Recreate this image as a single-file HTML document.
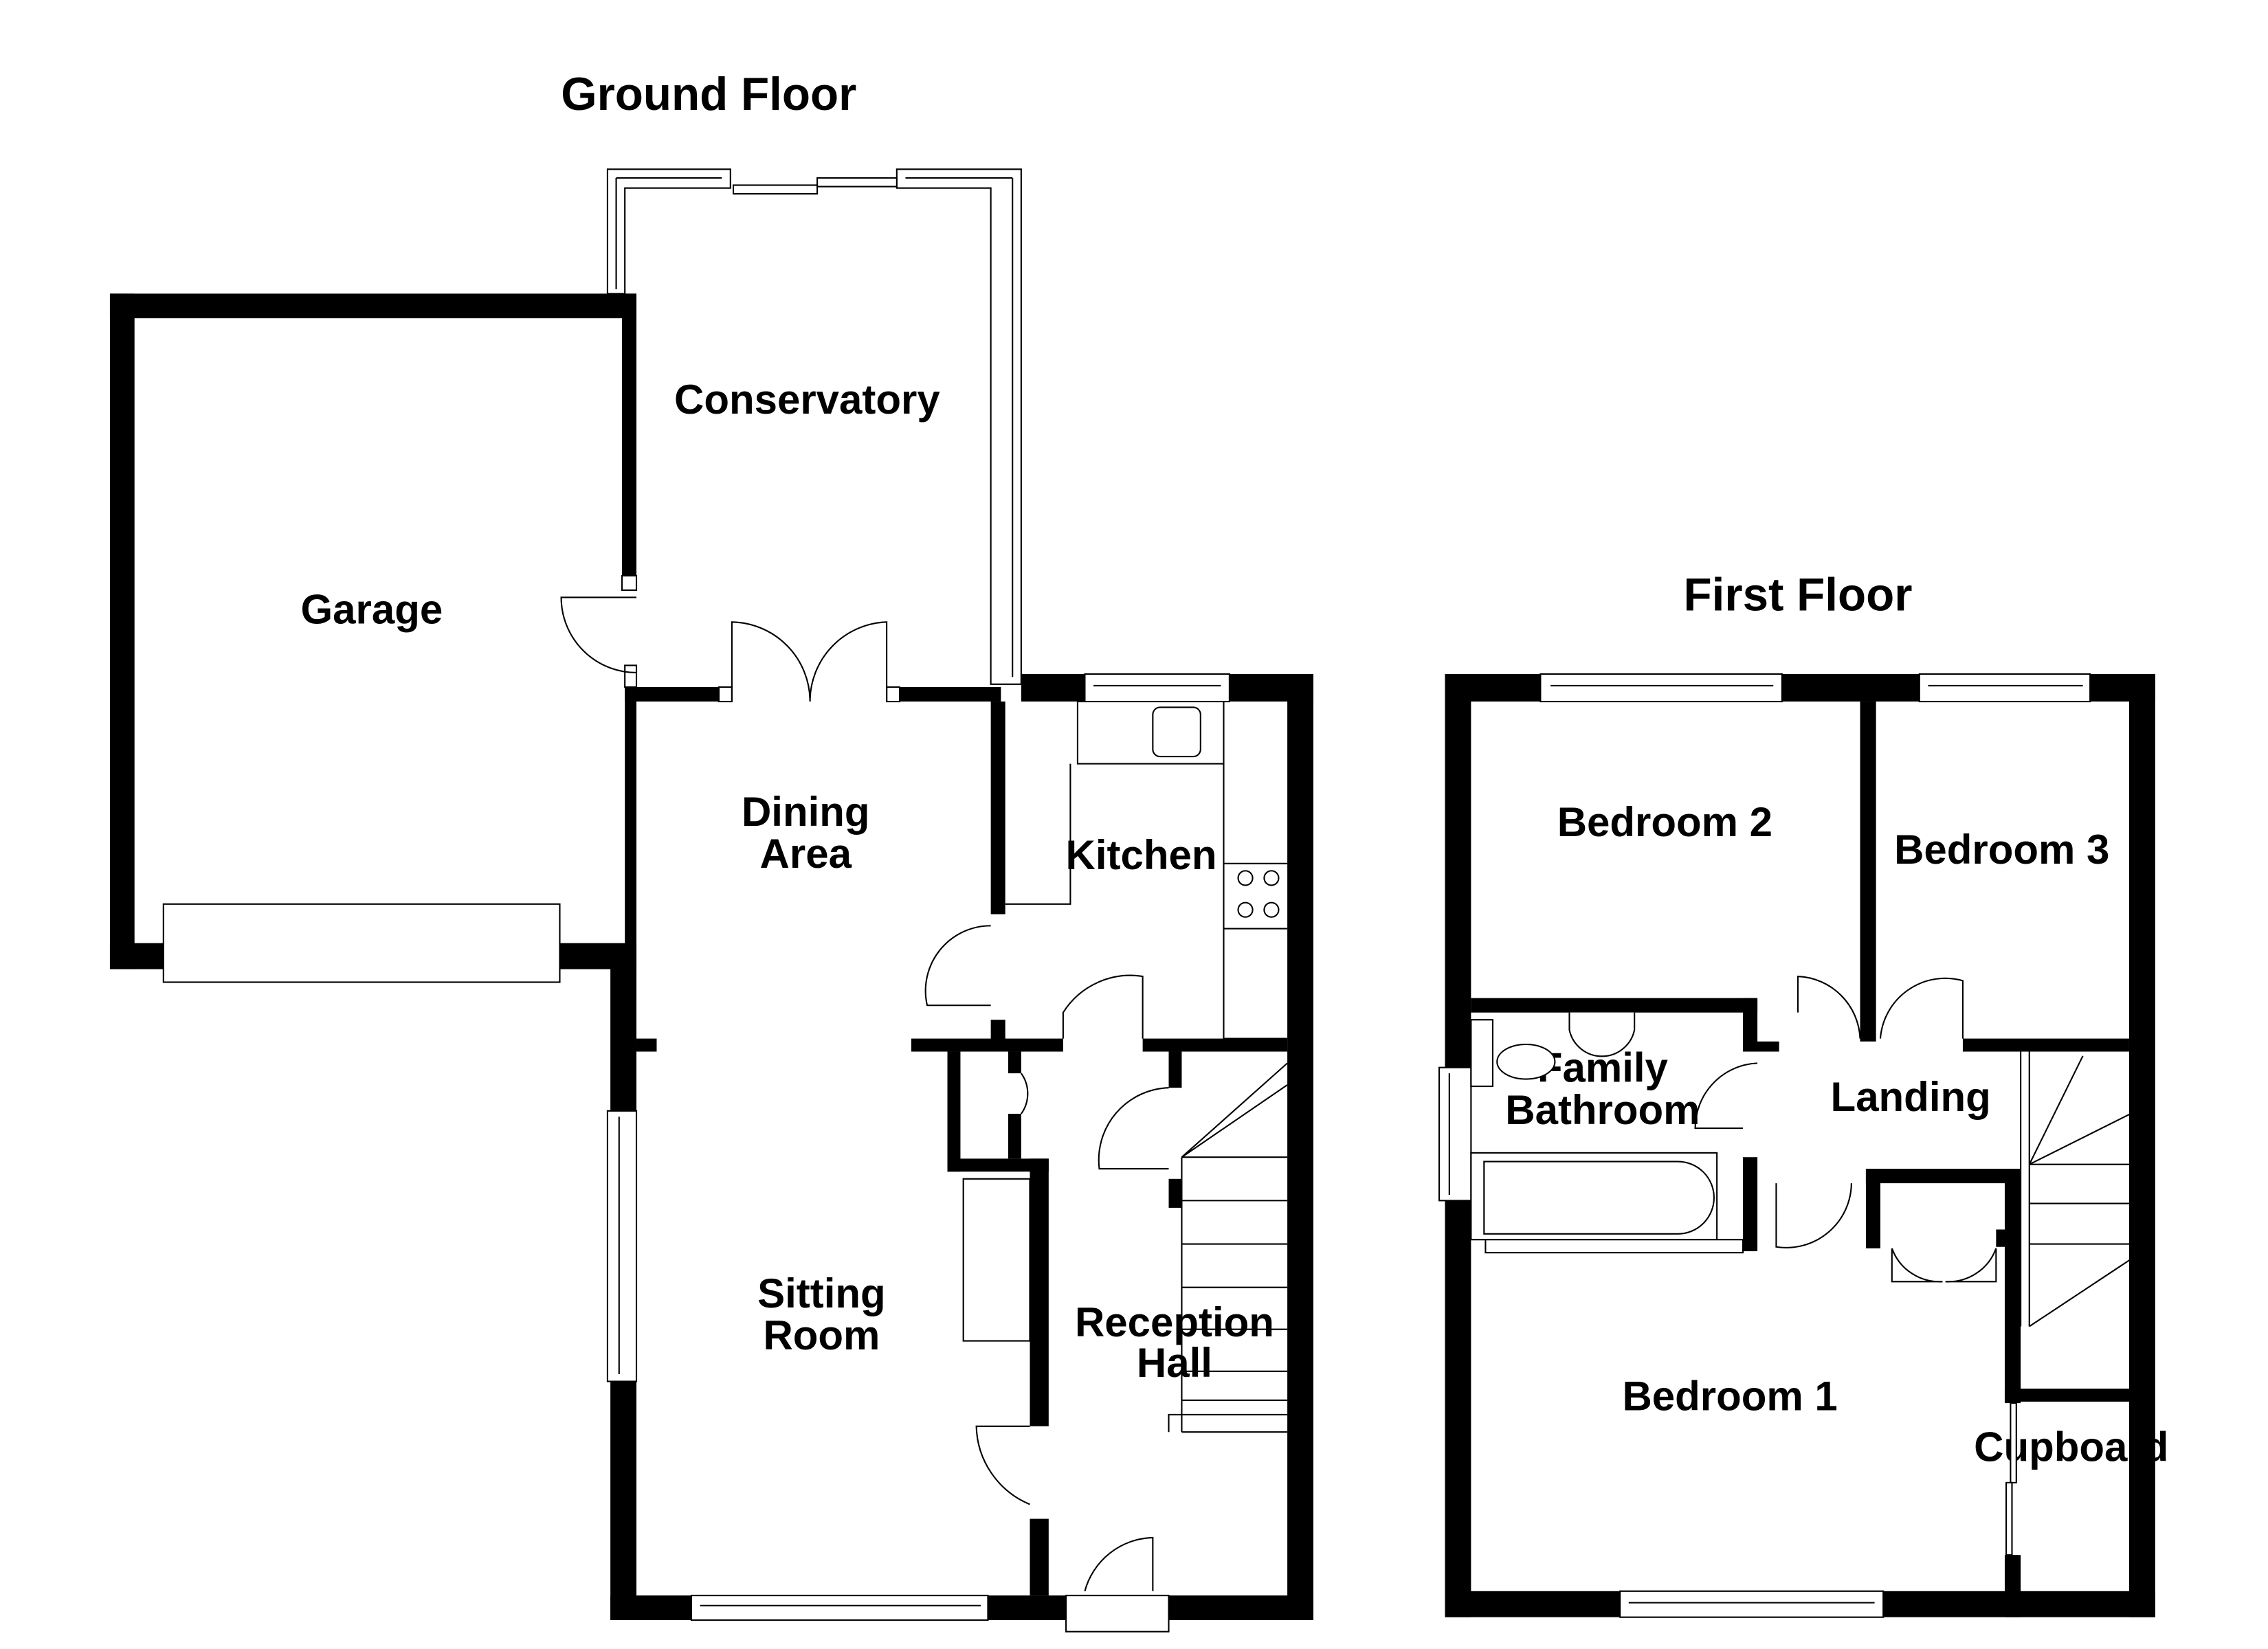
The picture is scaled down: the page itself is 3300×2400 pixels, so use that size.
<!DOCTYPE html>
<html><head><meta charset="utf-8"><style>html,body{margin:0;padding:0;background:#fff}svg{display:block}</style></head>
<body>
<svg width="3300" height="2400" viewBox="0 0 1568 1140" preserveAspectRatio="none" xmlns="http://www.w3.org/2000/svg">
<rect width="1568" height="1140" fill="#fff"/>
<g font-family="Liberation Sans, Arial, sans-serif" font-weight="bold" fill="#000" text-anchor="middle">
<text x="490" y="76" font-size="32">Ground Floor</text>
<text x="1243" y="422" font-size="32">First Floor</text>
<text x="558" y="286" font-size="28.5">Conservatory</text>
<text x="257" y="431" font-size="28.5">Garage</text>
<text x="557" y="571" font-size="28.5">Dining</text>
<text x="557" y="600" font-size="28.5">Area</text>
<text x="789" y="601" font-size="28.5">Kitchen</text>
<text x="568" y="904" font-size="28.5">Sitting</text>
<text x="568" y="933" font-size="28.5">Room</text>
<text x="812" y="924" font-size="28.5">Reception</text>
<text x="812" y="952" font-size="28.5">Hall</text>
<text x="1151" y="578" font-size="28.5">Bedroom 2</text>
<text x="1384" y="597" font-size="28.5">Bedroom 3</text>
<text x="1108" y="748" font-size="28.5">Family</text>
<text x="1108" y="777" font-size="28.5">Bathroom</text>
<text x="1321" y="768" font-size="28.5">Landing</text>
<text x="1196" y="975" font-size="28.5">Bedroom 1</text>
<text x="1432" y="1010" font-size="28.5">Cupboard</text>
</g>
<g fill="#000">
<rect x="76" y="203" width="364" height="17"/>
<rect x="76" y="203" width="17" height="467"/>
<rect x="430" y="203" width="10" height="202"/>
<rect x="76" y="652" width="37" height="18"/>
<rect x="387" y="652" width="53" height="18"/>
<rect x="432" y="475" width="65" height="10"/>
<rect x="622" y="475" width="70" height="10"/>
<rect x="432" y="465" width="8" height="225"/>
<rect x="422" y="655" width="18" height="113"/>
<rect x="422" y="955" width="18" height="165"/>
<rect x="422" y="1103" width="56" height="17"/>
<rect x="683" y="1103" width="54" height="17"/>
<rect x="808" y="1103" width="100" height="17"/>
<rect x="890" y="466" width="18" height="654"/>
<rect x="706" y="466" width="44" height="19"/>
<rect x="850" y="466" width="58" height="19"/>
<rect x="685" y="485" width="10" height="147"/>
<rect x="685" y="705" width="10" height="15"/>
<rect x="630" y="718" width="105" height="9"/>
<rect x="790" y="718" width="100" height="9"/>
<rect x="440" y="718" width="14" height="9"/>
<rect x="655" y="727" width="9" height="83"/>
<rect x="655" y="801" width="70" height="9"/>
<rect x="697" y="727" width="9" height="15"/>
<rect x="697" y="770" width="9" height="31"/>
<rect x="712" y="801" width="13" height="185"/>
<rect x="712" y="1050" width="13" height="53"/>
<rect x="808" y="727" width="9" height="25"/>
<rect x="808" y="815" width="9" height="20"/>
<rect x="999" y="466" width="66" height="19"/>
<rect x="1232" y="466" width="95" height="19"/>
<rect x="1445" y="466" width="45" height="19"/>
<rect x="999" y="466" width="18" height="272"/>
<rect x="999" y="830" width="18" height="288"/>
<rect x="999" y="1100" width="121" height="18"/>
<rect x="1302" y="1100" width="188" height="18"/>
<rect x="1472" y="466" width="18" height="652"/>
<rect x="1286" y="485" width="11" height="235"/>
<rect x="1017" y="690" width="198" height="10"/>
<rect x="1205" y="690" width="10" height="35"/>
<rect x="1205" y="720" width="25" height="7"/>
<rect x="1205" y="800" width="10" height="65"/>
<rect x="1357" y="718" width="115" height="9"/>
<rect x="1290" y="808" width="105" height="10"/>
<rect x="1290" y="808" width="10" height="55"/>
<rect x="1380" y="850" width="10" height="12"/>
<rect x="1386" y="808" width="11" height="162"/>
<rect x="1386" y="960" width="89" height="9"/>
<rect x="1386" y="1075" width="11" height="43"/>
</g>
<g fill="#fff" stroke="#000" stroke-width="1">
<rect x="113" y="625" width="274" height="54"/>
<rect x="478" y="1103" width="205" height="17"/><line x1="484" y1="1110" x2="678" y2="1110"/>
<rect x="737" y="1103" width="71" height="25"/>
<rect x="420" y="768" width="20" height="187"/><line x1="428" y1="772" x2="428" y2="950"/>
<rect x="750" y="466" width="100" height="19"/><line x1="756" y1="474" x2="844" y2="474"/>
<rect x="1065" y="466" width="167" height="19"/><line x1="1072" y1="474" x2="1226" y2="474"/>
<rect x="1327" y="466" width="118" height="19"/><line x1="1333" y1="474" x2="1440" y2="474"/>
<rect x="1120" y="1100" width="182" height="18"/><line x1="1126" y1="1108" x2="1296" y2="1108"/>
<rect x="995" y="738" width="22" height="92"/><line x1="1002" y1="742" x2="1002" y2="826"/>
<path d="M420 117 H505 V130 H432 V203 H420 Z"/>
<path d="M620 117 H706 V473 H685 V130 H620 Z"/>
<path d="M426 123 H499 M426 123 V200 M700 123 V468 M626 123 H700" fill="none"/>
<rect x="507" y="128" width="58" height="6"/>
<rect x="565" y="123" width="55" height="6"/>
<rect x="432" y="460" width="8" height="15"/><rect x="430" y="398" width="10" height="10"/>
<rect x="497" y="475" width="9" height="10"/><rect x="613" y="475" width="9" height="10"/>
<rect x="745" y="485" width="101" height="43"/>
<rect x="797" y="489" width="33" height="34" rx="5"/>
<path d="M740 528 V625 H695 M846 528 V718 H890 M846 597 H890 M846 642 H890" fill="none"/>
<circle cx="861" cy="607" r="5"/><circle cx="879" cy="607" r="5"/><circle cx="861" cy="629" r="5"/><circle cx="879" cy="629" r="5"/>
<rect x="666" y="815" width="46" height="112"/>
<path d="M817 990 H890 M817 800 H890 M817 800 V990 M808 990 V978 H890" fill="none"/>
<path d="M817 830 H890 M817 860 H890 M817 890 H890 M817 919 H890 M817 948 H890 M817 968 H890" fill="none"/>
<path d="M817 800 L890 735 M817 800 L890 750" fill="none"/>
<rect x="1017" y="797" width="170" height="60"/>
<path d="M1026 803 H1160 A25 25 0 0 1 1160 853 H1026 Z"/>
<rect x="1027" y="857" width="178" height="9"/>
<rect x="1017" y="705" width="15" height="46"/>
<ellipse cx="1055" cy="734" rx="20" ry="12"/>
<path d="M1085 700 V712 A23 23 0 0 0 1130 712 V700"/>
<path d="M1397 727 V917 M1403 727 V917 M1403 805 H1477 M1403 832 H1477 M1403 860 H1477 M1403 805 L1440 730 M1403 805 L1477 768 M1403 917 L1477 868" fill="none"/>
<rect x="1390" y="970" width="4" height="55"/><rect x="1387" y="1025" width="4" height="50"/>
</g>
<g fill="none" stroke="#000" stroke-width="1">
<path d="M440 465 A52 52 0 0 1 388 413 H440"/>
<path d="M506 485 V430 A55 55 0 0 1 560 485"/>
<path d="M613 485 V430 A55 55 0 0 0 560 485"/>
<path d="M685 640 A45 45 0 0 0 641 695 H685"/>
<path d="M735 718 V700 A55 55 0 0 1 790 675 V718"/>
<path d="M706 742 A24 24 0 0 1 706 770"/>
<path d="M808 752 A50 50 0 0 0 760 808 H808"/>
<path d="M712 986 H675 A60 60 0 0 0 712 1040"/>
<path d="M750 1100 A50 50 0 0 1 797 1063 V1100"/>
<path d="M1215 735 A45 45 0 0 0 1172 780 H1205"/>
<path d="M1243 700 V675 A45 45 0 0 1 1286 718"/>
<path d="M1300 718 A45 45 0 0 1 1357 678 V718"/>
<path d="M1228 818 V862 A45 45 0 0 0 1280 818"/>
<path d="M1308 863 V886 H1343 A35 35 0 0 1 1308 863 M1380 863 V886 H1345 A35 35 0 0 0 1380 863"/>
</g>
</svg>
</body></html>
